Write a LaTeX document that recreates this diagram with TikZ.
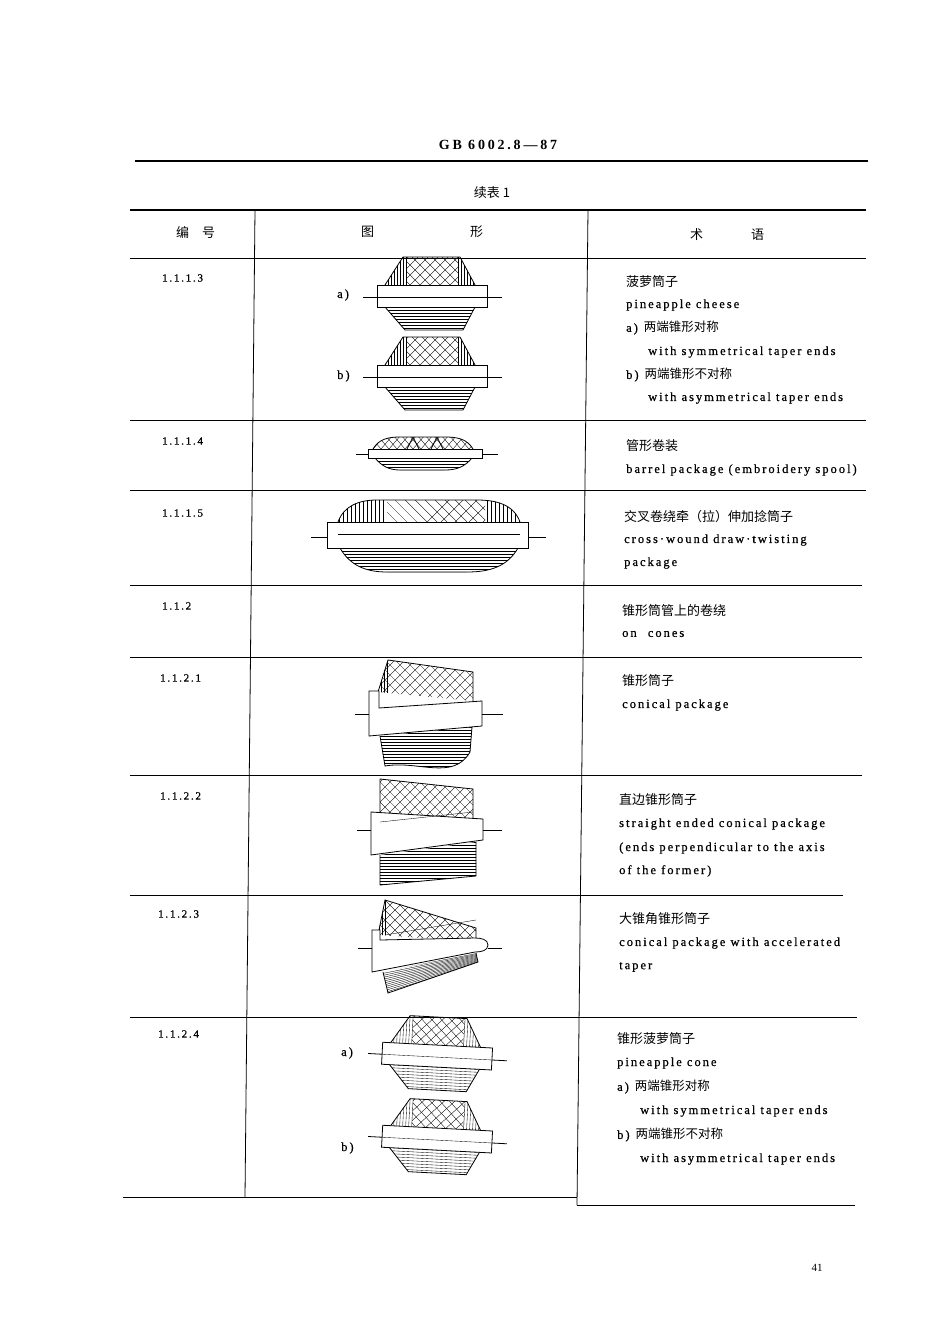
\documentclass[tikz,border=0pt]{standalone}
\usepackage{fontspec}
\setmainfont{Liberation Serif}
\newfontfamily\cjk{Noto Sans CJK SC}
\newfontfamily\enf[LetterSpace=16,FakeBold=0.6]{Liberation Serif}
\newfontfamily\ttl[LetterSpace=20]{Liberation Serif}
\tikzset{x=1pt,y=-1pt,
 num/.style={anchor=west,inner sep=0,font=\enf\fontsize{11}{11}\selectfont},
 en/.style={anchor=west,inner sep=0,font=\enf\fontsize{12.5}{12.5}\selectfont},
 zh/.style={anchor=west,inner sep=0,font=\cjk\fontsize{13}{13}\selectfont},
 rule/.style={line width=0.8pt},
 hl/.style={line width=0.35pt},
 ol/.style={line width=0.8pt}}
\newcommand\xhatch[4]{% x0 x1 step ybase
 \pgfmathsetmacro\xsec{#1+#3}
 \foreach \i in {#1,\xsec,...,#2} {\draw[hl] (\i,#4)--++(-80,-80); \draw[hl] (\i,#4)--++(80,-80);}}
\newcommand\cheesefig[3]{%
\begin{scope}[shift={(#1,#2)},#3]
 \begin{scope}\clip (-45,-12)--(-27,-40)--(30,-40)--(45,-12)--cycle;
  \foreach \i in {-45,-42,...,-24} \draw[hl] (\i,-45)--(\i,-12);
  \foreach \i in {28,31,...,46} \draw[hl] (\i,-45)--(\i,-12);
  \clip (-24,-45) rectangle (28,-12);
  \xhatch{-70}{90}{10}{-12}
 \end{scope}
 \draw[ol] (-45,-12)--(-27,-40)--(30,-40)--(45,-12);
 \begin{scope}\clip (-45,10)--(-25,33)--(33,33)--(45,10)--cycle;
  \foreach \j in {10,13,...,34} \draw[hl] (-50,\j)--(50,\j);
 \end{scope}
 \draw[ol] (-45,10)--(-25,33)--(33,33)--(45,10);
 \draw[ol,fill=white] (-53,-12) rectangle (57,10);
 \draw[hl] (-53,0)--(57,0);
 \draw[ol] (-67,0)--(-53,0) (57,0)--(72,0);
\end{scope}}
\begin{document}
\begin{tikzpicture}
\useasboundingbox (0,0) rectangle (950,1340);
% header
\node[font=\ttl\bfseries\fontsize{14}{14}\selectfont,inner sep=0] (title) at (498,145) {GB 6002.8—87};
\draw[line width=1.6pt] (135,161)--(868,161);
\node[font=\cjk\fontsize{13}{13}\selectfont,inner sep=0] (cap) at (492,193) {续表 1};
\draw[line width=1.3pt] (130,210)--(866,210);
\node[zh] (h1) at (176,233) {编\quad 号};
\node[zh] (h2) at (361,232) {图};
\node[zh] (h3) at (470,232) {形};
\node[zh] (h4) at (690,235) {术};
\node[zh] (h5) at (751,235) {语};
\draw[rule] (130,258)--(866,258);
\draw[rule] (255,210)--(245,1197);
\draw[rule] (588,210)--(577,1205);
\foreach \y/\a/\b in {420/130/866,490/130/866,585/130/862,657/130/862,775/130/862,895/130/843,1017/130/857,1197/123/577}
 \draw[rule] (\a,\y)--(\b,\y);
\draw[rule] (577,1205)--(855,1205);
% numbers
\node[num] (n1) at (162,278) {1.1.1.3};
\node[num] (n2) at (162,441) {1.1.1.4};
\node[num] (n3) at (162,513) {1.1.1.5};
\node[num] (n4) at (162,606) {1.1.2};
\node[num] (n5) at (160,678) {1.1.2.1};
\node[num] (n6) at (160,796) {1.1.2.2};
\node[num] (n7) at (158,914) {1.1.2.3};
\node[num] (n8) at (158,1034) {1.1.2.4};
% terms
\node[zh] (t1) at (626,282) {菠萝筒子};
\node[en] (t2) at (626,305) {pineapple cheese};
\node[en] (t3) at (626,328) {a)\hspace{6pt}{\cjk 两端锥形对称}};
\node[en] (t4) at (648,352) {with symmetrical taper ends};
\node[en] (t5) at (626,375) {b)\hspace{6pt}{\cjk 两端锥形不对称}};
\node[en] (t6) at (648,398) {with asymmetrical taper ends};
\node[zh] (t7) at (626,446) {管形卷装};
\node[en] (t8) at (626,470) {barrel package (embroidery spool)};
\node[zh] (t9) at (624,517) {交叉卷绕牵（拉）伸加捻筒子};
\node[en] (t10) at (624,540) {cross·wound draw·twisting};
\node[en] (t11) at (624,563) {package};
\node[zh] (t12) at (622,611) {锥形筒管上的卷绕};
\node[en] (t13) at (622,634) {on\hspace{6pt} cones};
\node[zh] (t14) at (622,681) {锥形筒子};
\node[en] (t15) at (622,705) {conical package};
\node[zh] (t16) at (619,800) {直边锥形筒子};
\node[en] (t17) at (619,824) {straight ended conical package};
\node[en] (t18) at (619,848) {(ends perpendicular to the axis};
\node[en] (t19) at (619,871) {of the former)};
\node[zh] (t20) at (619,919) {大锥角锥形筒子};
\node[en] (t21) at (619,943) {conical package with accelerated};
\node[en] (t22) at (619,967) {taper};
\node[zh] (t23) at (617,1039) {锥形菠萝筒子};
\node[en] (t24) at (617,1063) {pineapple cone};
\node[en] (t25) at (617,1087) {a)\hspace{6pt}{\cjk 两端锥形对称}};
\node[en] (t26) at (640,1111) {with symmetrical taper ends};
\node[en] (t27) at (617,1135) {b)\hspace{6pt}{\cjk 两端锥形不对称}};
\node[en] (t28) at (640,1159) {with asymmetrical taper ends};
\node[font=\fontsize{11}{11}\selectfont,inner sep=0] (pg) at (817,1268) {41};
% figure labels
\node[en] (la) at (337,295) {a)};
\node[en] (lb) at (337,376) {b)};
\node[en] (lc) at (341,1053) {a)};
\node[en] (ld) at (341,1148) {b)};
% 1.1.1.3
\cheesefig{430}{297}{}
\cheesefig{430}{377}{}
% 1.1.1.4 barrel
\begin{scope}[shift={(425,454)}]
 \begin{scope}\clip (-52,-5) to[out=60,in=180] (-25,-17) -- (20,-17) to[out=0,in=120] (48,-5)--cycle;
  \foreach \i in {-60,-52,...,60} {\draw[hl] (\i,-5)--++(-12,-14); \draw[hl] (\i,-5)--++(12,-14);}
  \draw[ol] (-18,-5)--(-12,-17)--(-6,-5) (6,-5)--(12,-17)--(18,-5);
 \end{scope}
 \draw[ol] (-52,-5) to[out=60,in=180] (-25,-17) -- (20,-17) to[out=0,in=120] (48,-5);
 \begin{scope}\clip (-50,4) to[out=-50,in=180] (-25,16) -- (20,16) to[out=0,in=-130](47,4)--cycle;
  \foreach \j in {4,7,...,16} \draw[hl] (-55,\j)--(55,\j);
 \end{scope}
 \draw[ol] (-50,4) to[out=-50,in=180] (-25,16) -- (20,16) to[out=0,in=-130](47,4);
 \draw[ol,fill=white] (-57,-5) rectangle (57,4);
 \draw[ol] (-69,0)--(-57,0) (57,0)--(73,0);
\end{scope}
% 1.1.1.5 cross wound
\begin{scope}[shift={(427,537)}]
 \begin{scope}\clip (-89,-15) to[out=70,in=180] (-50,-37) -- (50,-37) to[out=0,in=110] (93,-15)--cycle;
  \foreach \i in {-92,-88,...,-42} \draw[hl] (\i,-40)--(\i,-15);
  \foreach \i in {60,64,...,95} \draw[hl] (\i,-40)--(\i,-15);
  \clip (-40,-40) rectangle (58,-15);
  \foreach \i in {-60,-50,...,120} \draw[hl] (\i,-15)--++(-25,-25);
  \foreach \i in {0,14,...,130} \draw[hl] (\i,-15)--++(25,-25);
 \end{scope}
 \draw[ol] (-89,-15) to[out=70,in=180] (-50,-37) -- (50,-37) to[out=0,in=110] (93,-15);
 \begin{scope}\clip (-87,11) to[out=-60,in=180] (-40,35) -- (40,35) to[out=0,in=-120] (91,11)--cycle;
  \foreach \j in {11,14,...,36} \draw[hl] (-95,\j)--(95,\j);
 \end{scope}
 \draw[ol] (-87,11) to[out=-60,in=180] (-40,35) -- (40,35) to[out=0,in=-120] (91,11);
 \draw[ol,fill=white] (-100,-15) rectangle (101,11);
 \draw[hl] (-89,-3)--(93,-3);
 \draw[ol] (-116,0)--(-100,0) (101,0)--(119,0);
\end{scope}
% 1.1.2.1
\begin{scope}
 \clip (378,692)--(388,660)--(473,672)--(473,701)--cycle;
 \foreach \i in {378,381,...,388} \draw[hl] (\i,655)--(\i,705);
 \xhatch{300}{560}{10}{705}
\end{scope}
\draw[ol] (378,692)--(388,660)--(473,672)--(473,701);
\begin{scope}
 \clip (380,736)--(472,727)--(470,752) to[out=-120,in=10] (385,766)--cycle;
 \foreach \j in {727,730,...,767} \draw[hl] (375,\j)--(475,\j);
\end{scope}
\draw[ol] (380,736)--(385,766) to[out=10,in=-120] (470,752)--(472,727);
\draw[ol,fill=white] (369,691)--(379,691)--(379,708)--(482,701)--(482,726)--(369,736)--cycle;
\draw[ol] (355,714)--(369,714) (482,714)--(503,714);
% 1.1.2.2
\begin{scope}
 \clip (380,779)--(473,789)--(473,818)--(380,822)--cycle;
 \xhatch{300}{560}{10}{822}
\end{scope}
\draw[ol] (380,822)--(380,779)--(473,789)--(473,818);
\begin{scope}
 \clip (380,855)--(476,842)--(476,876)--(380,885)--cycle;
 \foreach \j in {842,845,...,886} \draw[hl] (375,\j)--(480,\j);
\end{scope}
\draw[ol] (380,855)--(380,885)--(476,876)--(476,842);
\draw[ol,fill=white] (371,812)--(483,819)--(483,840)--(371,855)--cycle;
\draw[hl] (380,822)--(473,812);
\draw[ol] (357,830)--(371,830) (483,830)--(502,830);
% 1.1.2.3
\begin{scope}
 \clip (378,935)--(385,900)--(476,928)--(476,942)--(380,935)--cycle;
 \foreach \i in {379,382,385} \draw[hl] (\i,895)--(\i,940);
 \xhatch{300}{560}{10}{945}
\end{scope}
\draw[ol] (378,935)--(385,900)--(476,928)--(476,940);
\draw[hl] (385,935)--(476,920);
\begin{scope}
 \clip (383,972)--(476,953)--(478,962)--(388,993)--cycle;
 \foreach \k in {0,2,...,24} \draw[hl] (380,970+\k)--(480,952+\k*0.45);
\end{scope}
\draw[ol] (383,972)--(388,993)--(478,962)--(476,953);
\draw[ol,fill=white] (372,930)--(380,930)--(380,940)--(475,938) to[out=0,in=90] (488,945) to[out=-90,in=0] (475,952)--(372,972)--cycle;
\draw[ol] (358,948)--(372,948) (488,948)--(502,948);
% 1.1.2.4
\cheesefig{435}{1057}{rotate=-3}
\cheesefig{435}{1140}{rotate=-3}
\end{tikzpicture}
\end{document}
